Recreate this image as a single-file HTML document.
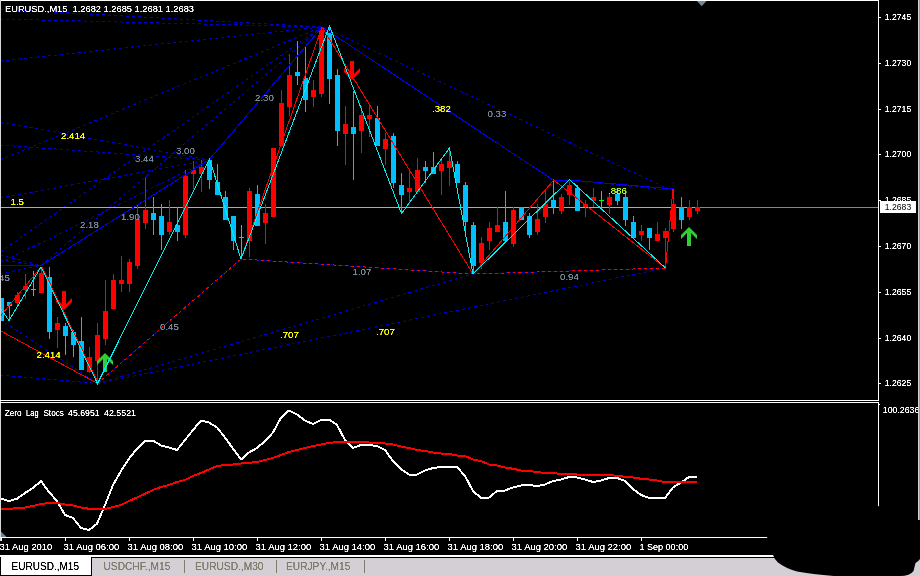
<!DOCTYPE html>
<html><head><meta charset="utf-8"><title>EURUSD M15</title>
<style>html,body{margin:0;padding:0;background:#000;width:920px;height:576px;overflow:hidden}</style></head>
<body>
<svg width="920" height="576" viewBox="0 0 920 576" style="position:absolute;left:0;top:0;display:block">
<rect x="0" y="0" width="920" height="576" fill="#000"/>
<defs><filter id="crisp" x="0" y="0" width="100%" height="100%" color-interpolation-filters="sRGB"><feComponentTransfer><feFuncA type="table" tableValues="0 0.15 0.85 1 1"/></feComponentTransfer></filter></defs>
<g stroke="#0000C8" stroke-width="1" stroke-dasharray="3 3" fill="none" shape-rendering="crispEdges">
<line x1="0" y1="9" x2="322" y2="27"/>
<line x1="0" y1="19" x2="322" y2="27"/>
<line x1="0" y1="61" x2="322" y2="27"/>
<line x1="0" y1="160" x2="322" y2="27"/>
<line x1="0" y1="252" x2="322" y2="27"/>
<line x1="41" y1="265.5" x2="322" y2="27"/>
<line x1="0" y1="122" x2="209" y2="160"/>
<line x1="0" y1="145" x2="209" y2="160"/>
<line x1="0" y1="198" x2="209" y2="160"/>
<line x1="0" y1="263" x2="209" y2="160"/>
<line x1="0" y1="255" x2="41" y2="265.5"/>
<line x1="0" y1="260" x2="41" y2="265.5"/>
<line x1="0" y1="274" x2="41" y2="265.5"/>
<line x1="0" y1="319.5" x2="97.5" y2="383.5"/>
<line x1="0" y1="375" x2="97.5" y2="383.5"/>
<line x1="97.5" y1="383.5" x2="473" y2="274"/>
<line x1="97.5" y1="383.5" x2="665.5" y2="268"/>
<line x1="329.5" y1="30" x2="673" y2="191"/>
<line x1="569.5" y1="180" x2="673" y2="190.5"/>
</g>
<g fill="none" stroke-width="1" shape-rendering="crispEdges">
<polyline points="97.5,383.5 241,259 473,274 665.5,268" stroke="#00008B"/>
<polyline points="97.5,383.5 241,259 473,274 665.5,268" stroke="#FF0000" stroke-dasharray="3 3"/>
</g>
<rect x="1" y="207" width="877" height="1" fill="#778899"/>
<rect x="1" y="207" width="699" height="1" fill="#A4AEBA"/>
<g shape-rendering="crispEdges">
<rect x="1" y="298" width="1" height="23" fill="#00BFFF"/>
<rect x="-1" y="298" width="5" height="23" fill="#00BFFF"/>
<rect x="9" y="302" width="1" height="18" fill="#00BFFF"/>
<rect x="7" y="302" width="5" height="4" fill="#00BFFF"/>
<rect x="17" y="292" width="1" height="14" fill="#FF0000"/>
<rect x="15" y="295" width="5" height="8" fill="#FF0000"/>
<rect x="25" y="274" width="1" height="25" fill="#FF0000"/>
<rect x="23" y="286" width="5" height="4" fill="#FF0000"/>
<rect x="33" y="271" width="1" height="25" fill="#00FF00"/>
<rect x="31" y="289" width="5" height="1" fill="#00FF00"/>
<rect x="41" y="267" width="1" height="26" fill="#FF0000"/>
<rect x="39" y="273" width="5" height="20" fill="#FF0000"/>
<rect x="49" y="267" width="1" height="72" fill="#00BFFF"/>
<rect x="47" y="277" width="5" height="55" fill="#00BFFF"/>
<rect x="57" y="317" width="1" height="31" fill="#FF0000"/>
<rect x="55" y="323" width="5" height="7" fill="#FF0000"/>
<rect x="65" y="323" width="1" height="32" fill="#00BFFF"/>
<rect x="63" y="326" width="5" height="10" fill="#00BFFF"/>
<rect x="73" y="330" width="1" height="27" fill="#00BFFF"/>
<rect x="71" y="332" width="5" height="13" fill="#00BFFF"/>
<rect x="81" y="317" width="1" height="53" fill="#00BFFF"/>
<rect x="79" y="341" width="5" height="29" fill="#00BFFF"/>
<rect x="89" y="347" width="1" height="26" fill="#FF0000"/>
<rect x="87" y="357" width="5" height="15" fill="#FF0000"/>
<rect x="97" y="323" width="1" height="60" fill="#FF0000"/>
<rect x="95" y="335" width="5" height="26" fill="#FF0000"/>
<rect x="105" y="280" width="1" height="65" fill="#FF0000"/>
<rect x="103" y="311" width="5" height="28" fill="#FF0000"/>
<rect x="113" y="274" width="1" height="35" fill="#FF0000"/>
<rect x="111" y="280" width="5" height="29" fill="#FF0000"/>
<rect x="121" y="256" width="1" height="36" fill="#FF0000"/>
<rect x="119" y="280" width="5" height="4" fill="#FF0000"/>
<rect x="129" y="259" width="1" height="33" fill="#FF0000"/>
<rect x="127" y="262" width="5" height="22" fill="#FF0000"/>
<rect x="137" y="205" width="1" height="64" fill="#FF0000"/>
<rect x="135" y="219" width="5" height="47" fill="#FF0000"/>
<rect x="145" y="177" width="1" height="52" fill="#FF0000"/>
<rect x="143" y="210" width="5" height="13" fill="#FF0000"/>
<rect x="153" y="197" width="1" height="38" fill="#00BFFF"/>
<rect x="151" y="213" width="5" height="7" fill="#00BFFF"/>
<rect x="161" y="204" width="1" height="46" fill="#00BFFF"/>
<rect x="159" y="216" width="5" height="19" fill="#00BFFF"/>
<rect x="169" y="200" width="1" height="35" fill="#FF0000"/>
<rect x="167" y="222" width="5" height="10" fill="#FF0000"/>
<rect x="177" y="207" width="1" height="34" fill="#00BFFF"/>
<rect x="175" y="225" width="5" height="7" fill="#00BFFF"/>
<rect x="185" y="170" width="1" height="68" fill="#FF0000"/>
<rect x="183" y="176" width="5" height="59" fill="#FF0000"/>
<rect x="193" y="161" width="1" height="28" fill="#FF0000"/>
<rect x="191" y="170" width="5" height="4" fill="#FF0000"/>
<rect x="201" y="160" width="1" height="32" fill="#FF0000"/>
<rect x="199" y="167" width="5" height="7" fill="#FF0000"/>
<rect x="209" y="159" width="1" height="30" fill="#00BFFF"/>
<rect x="207" y="160" width="5" height="20" fill="#00BFFF"/>
<rect x="217" y="164" width="1" height="31" fill="#00BFFF"/>
<rect x="215" y="182" width="5" height="13" fill="#00BFFF"/>
<rect x="225" y="191" width="1" height="29" fill="#00BFFF"/>
<rect x="223" y="197" width="5" height="23" fill="#00BFFF"/>
<rect x="233" y="216" width="1" height="34" fill="#00BFFF"/>
<rect x="231" y="216" width="5" height="25" fill="#00BFFF"/>
<rect x="241" y="225" width="1" height="34" fill="#00FF00"/>
<rect x="239" y="237" width="5" height="1" fill="#00FF00"/>
<rect x="249" y="188" width="1" height="69" fill="#FF0000"/>
<rect x="247" y="191" width="5" height="50" fill="#FF0000"/>
<rect x="257" y="185" width="1" height="41" fill="#00BFFF"/>
<rect x="255" y="194" width="5" height="32" fill="#00BFFF"/>
<rect x="265" y="204" width="1" height="40" fill="#FF0000"/>
<rect x="263" y="213" width="5" height="10" fill="#FF0000"/>
<rect x="273" y="148" width="1" height="69" fill="#FF0000"/>
<rect x="271" y="148" width="5" height="69" fill="#FF0000"/>
<rect x="281" y="90" width="1" height="56" fill="#FF0000"/>
<rect x="279" y="103" width="5" height="43" fill="#FF0000"/>
<rect x="289" y="54" width="1" height="62" fill="#FF0000"/>
<rect x="287" y="75" width="5" height="32" fill="#FF0000"/>
<rect x="297" y="41" width="1" height="44" fill="#00BFFF"/>
<rect x="295" y="72" width="5" height="4" fill="#00BFFF"/>
<rect x="305" y="47" width="1" height="65" fill="#00BFFF"/>
<rect x="303" y="78" width="5" height="22" fill="#00BFFF"/>
<rect x="313" y="80" width="1" height="27" fill="#FF0000"/>
<rect x="311" y="90" width="5" height="7" fill="#FF0000"/>
<rect x="321" y="27" width="1" height="70" fill="#FF0000"/>
<rect x="319" y="30" width="5" height="64" fill="#FF0000"/>
<rect x="329" y="26" width="1" height="78" fill="#00BFFF"/>
<rect x="327" y="33" width="5" height="46" fill="#00BFFF"/>
<rect x="337" y="69" width="1" height="77" fill="#00BFFF"/>
<rect x="335" y="75" width="5" height="56" fill="#00BFFF"/>
<rect x="345" y="106" width="1" height="59" fill="#FF0000"/>
<rect x="343" y="124" width="5" height="10" fill="#FF0000"/>
<rect x="353" y="91" width="1" height="89" fill="#00BFFF"/>
<rect x="351" y="127" width="5" height="7" fill="#00BFFF"/>
<rect x="361" y="106" width="1" height="47" fill="#FF0000"/>
<rect x="359" y="115" width="5" height="16" fill="#FF0000"/>
<rect x="369" y="104" width="1" height="33" fill="#FF0000"/>
<rect x="367" y="115" width="5" height="4" fill="#FF0000"/>
<rect x="377" y="106" width="1" height="40" fill="#00BFFF"/>
<rect x="375" y="118" width="5" height="28" fill="#00BFFF"/>
<rect x="385" y="133" width="1" height="32" fill="#FF0000"/>
<rect x="383" y="139" width="5" height="10" fill="#FF0000"/>
<rect x="393" y="133" width="1" height="55" fill="#00BFFF"/>
<rect x="391" y="136" width="5" height="47" fill="#00BFFF"/>
<rect x="401" y="173" width="1" height="40" fill="#00BFFF"/>
<rect x="399" y="185" width="5" height="10" fill="#00BFFF"/>
<rect x="409" y="169" width="1" height="35" fill="#FF0000"/>
<rect x="407" y="188" width="5" height="4" fill="#FF0000"/>
<rect x="417" y="158" width="1" height="36" fill="#FF0000"/>
<rect x="415" y="170" width="5" height="22" fill="#FF0000"/>
<rect x="425" y="161" width="1" height="22" fill="#00BFFF"/>
<rect x="423" y="167" width="5" height="4" fill="#00BFFF"/>
<rect x="433" y="152" width="1" height="22" fill="#00BFFF"/>
<rect x="431" y="167" width="5" height="7" fill="#00BFFF"/>
<rect x="441" y="158" width="1" height="37" fill="#FF0000"/>
<rect x="439" y="164" width="5" height="7" fill="#FF0000"/>
<rect x="449" y="151" width="1" height="35" fill="#FF0000"/>
<rect x="447" y="161" width="5" height="7" fill="#FF0000"/>
<rect x="457" y="161" width="1" height="22" fill="#00BFFF"/>
<rect x="455" y="164" width="5" height="19" fill="#00BFFF"/>
<rect x="465" y="182" width="1" height="50" fill="#00BFFF"/>
<rect x="463" y="185" width="5" height="37" fill="#00BFFF"/>
<rect x="473" y="222" width="1" height="52" fill="#00BFFF"/>
<rect x="471" y="225" width="5" height="41" fill="#00BFFF"/>
<rect x="481" y="237" width="1" height="32" fill="#FF0000"/>
<rect x="479" y="243" width="5" height="20" fill="#FF0000"/>
<rect x="489" y="222" width="1" height="28" fill="#FF0000"/>
<rect x="487" y="228" width="5" height="13" fill="#FF0000"/>
<rect x="497" y="207" width="1" height="25" fill="#FF0000"/>
<rect x="495" y="225" width="5" height="7" fill="#FF0000"/>
<rect x="505" y="191" width="1" height="50" fill="#00BFFF"/>
<rect x="503" y="222" width="5" height="19" fill="#00BFFF"/>
<rect x="513" y="207" width="1" height="40" fill="#FF0000"/>
<rect x="511" y="210" width="5" height="34" fill="#FF0000"/>
<rect x="521" y="207" width="1" height="13" fill="#00BFFF"/>
<rect x="519" y="207" width="5" height="13" fill="#00BFFF"/>
<rect x="529" y="213" width="1" height="25" fill="#00BFFF"/>
<rect x="527" y="216" width="5" height="19" fill="#00BFFF"/>
<rect x="537" y="204" width="1" height="31" fill="#FF0000"/>
<rect x="535" y="219" width="5" height="13" fill="#FF0000"/>
<rect x="545" y="189" width="1" height="34" fill="#FF0000"/>
<rect x="543" y="204" width="5" height="13" fill="#FF0000"/>
<rect x="553" y="180" width="1" height="34" fill="#00BFFF"/>
<rect x="551" y="200" width="5" height="7" fill="#00BFFF"/>
<rect x="561" y="194" width="1" height="20" fill="#FF0000"/>
<rect x="559" y="197" width="5" height="14" fill="#FF0000"/>
<rect x="569" y="182" width="1" height="23" fill="#FF0000"/>
<rect x="567" y="185" width="5" height="10" fill="#FF0000"/>
<rect x="577" y="185" width="1" height="26" fill="#00BFFF"/>
<rect x="575" y="188" width="5" height="23" fill="#00BFFF"/>
<rect x="585" y="200" width="1" height="17" fill="#FF0000"/>
<rect x="583" y="204" width="5" height="3" fill="#FF0000"/>
<rect x="593" y="188" width="1" height="19" fill="#FF0000"/>
<rect x="591" y="197" width="5" height="4" fill="#FF0000"/>
<rect x="601" y="191" width="1" height="17" fill="#00FF00"/>
<rect x="599" y="200" width="5" height="1" fill="#00FF00"/>
<rect x="609" y="193" width="1" height="21" fill="#FF0000"/>
<rect x="607" y="197" width="5" height="8" fill="#FF0000"/>
<rect x="617" y="189" width="1" height="16" fill="#00BFFF"/>
<rect x="615" y="194" width="5" height="7" fill="#00BFFF"/>
<rect x="625" y="194" width="1" height="32" fill="#00BFFF"/>
<rect x="623" y="197" width="5" height="23" fill="#00BFFF"/>
<rect x="633" y="216" width="1" height="22" fill="#00BFFF"/>
<rect x="631" y="222" width="5" height="16" fill="#00BFFF"/>
<rect x="641" y="225" width="1" height="16" fill="#FF0000"/>
<rect x="639" y="231" width="5" height="4" fill="#FF0000"/>
<rect x="649" y="228" width="1" height="22" fill="#00BFFF"/>
<rect x="647" y="228" width="5" height="10" fill="#00BFFF"/>
<rect x="657" y="222" width="1" height="19" fill="#FF0000"/>
<rect x="655" y="234" width="5" height="7" fill="#FF0000"/>
<rect x="665" y="228" width="1" height="40" fill="#FF0000"/>
<rect x="663" y="231" width="5" height="7" fill="#FF0000"/>
<rect x="673" y="189" width="1" height="43" fill="#FF0000"/>
<rect x="671" y="204" width="5" height="25" fill="#FF0000"/>
<rect x="681" y="197" width="1" height="32" fill="#00BFFF"/>
<rect x="679" y="207" width="5" height="13" fill="#00BFFF"/>
<rect x="689" y="200" width="1" height="20" fill="#FF0000"/>
<rect x="687" y="207" width="5" height="10" fill="#FF0000"/>
<rect x="697" y="200" width="1" height="14" fill="#FF0000"/>
<rect x="695" y="207" width="5" height="4" fill="#FF0000"/>
</g>
<polygon fill="#32CD32" points="105,353 113,361 113,365 107,359 107,372 103,372 103,359 97,365 97,361"/>
<polygon fill="#32CD32" points="689,227 697,235 697,239 691,233 691,246 687,246 687,233 681,239 681,235"/>
<polygon fill="#FF0000" points="64,310 72,302 72,298 66,304 66,291 62,291 62,304 56,298 56,302"/>
<polygon fill="#FF0000" points="352,80 360,72 360,68 354,74 354,61 350,61 350,74 344,68 344,72"/>
<polyline fill="none" stroke="#0000FF" stroke-width="1" shape-rendering="crispEdges" points="0,265.5 41,265.5 209,160 322,27 553,180 569.5,180 673,189"/>
<g fill="none" stroke="#FF0000" stroke-width="1" shape-rendering="crispEdges">
<polyline points="0,316.7 41,267"/>
<polyline points="42,267 98.5,383.5"/>
<polyline points="97.5,383.5 0,330.5"/>
<polyline points="241,259 322,27 473,274 553.75,180 665.5,268 673,189"/>
</g>
<polyline fill="none" stroke="#00F0F0" stroke-width="1" shape-rendering="crispEdges" points="0,308 9,320.5 41,267 97.5,383.5 209.5,159 241,259 329.5,26 401.5,213.5 449.5,148 473,274 569.5,179.5 665.5,268"/>
<g font-family="Liberation Sans, sans-serif" font-size="9.7px" filter="url(#crisp)">
<text x="61" y="138.5" fill="#FFFF00">2.414</text>
<text x="36.5" y="358" fill="#FFFF00">2.414</text>
<text x="10.5" y="205" fill="#FFFF00">1.5</text>
<text x="432" y="112" fill="#FFFF00">.382</text>
<text x="280" y="338" fill="#FFFF00">.707</text>
<text x="376" y="335" fill="#FFFF00">.707</text>
<text x="608" y="194" fill="#ADFF2F">.886</text>
<text x="135" y="162" fill="#778899">3.44</text>
<text x="176" y="154" fill="#778899">3.00</text>
<text x="80" y="227.5" fill="#778899">2.18</text>
<text x="121" y="220" fill="#778899">1.90</text>
<text x="255" y="100.5" fill="#778899">2.30</text>
<text x="487.5" y="117" fill="#778899">0.33</text>
<text x="160" y="330" fill="#778899">0.45</text>
<text x="352.5" y="275" fill="#778899">1.07</text>
<text x="560" y="280" fill="#778899">0.94</text>
<text x="-9" y="281" fill="#778899">0.45</text>
<text x="5" y="11.6" fill="#FFF" textLength="189" lengthAdjust="spacingAndGlyphs">EURUSD.,M15&#160;&#160;1.2682 1.2685 1.2681 1.2683</text>
<text x="4.7" y="416" fill="#FFF" textLength="17" lengthAdjust="spacingAndGlyphs">Zero</text>
<text x="26" y="416" fill="#FFF" textLength="12.6" lengthAdjust="spacingAndGlyphs">Lag</text>
<text x="43.4" y="416" fill="#FFF" textLength="20.5" lengthAdjust="spacingAndGlyphs">Stocs</text>
<text x="68.1" y="416" fill="#FFF" textLength="31.5" lengthAdjust="spacingAndGlyphs">45.6951</text>
<text x="104" y="416" fill="#FFF" textLength="32" lengthAdjust="spacingAndGlyphs">42.5521</text>
<rect x="879" y="17" width="2" height="1" fill="#FFF" shape-rendering="crispEdges"/>
<text x="884.8" y="20" fill="#FFF" textLength="26.4" lengthAdjust="spacingAndGlyphs">1.2745</text>
<rect x="879" y="63" width="2" height="1" fill="#FFF" shape-rendering="crispEdges"/>
<text x="884.8" y="66" fill="#FFF" textLength="26.4" lengthAdjust="spacingAndGlyphs">1.2730</text>
<rect x="879" y="109" width="2" height="1" fill="#FFF" shape-rendering="crispEdges"/>
<text x="884.8" y="112" fill="#FFF" textLength="26.4" lengthAdjust="spacingAndGlyphs">1.2715</text>
<rect x="879" y="154" width="2" height="1" fill="#FFF" shape-rendering="crispEdges"/>
<text x="884.8" y="157" fill="#FFF" textLength="26.4" lengthAdjust="spacingAndGlyphs">1.2700</text>
<rect x="879" y="200" width="2" height="1" fill="#FFF" shape-rendering="crispEdges"/>
<text x="884.8" y="203" fill="#FFF" textLength="26.4" lengthAdjust="spacingAndGlyphs">1.2685</text>
<rect x="879" y="246" width="2" height="1" fill="#FFF" shape-rendering="crispEdges"/>
<text x="884.8" y="249" fill="#FFF" textLength="26.4" lengthAdjust="spacingAndGlyphs">1.2670</text>
<rect x="879" y="292" width="2" height="1" fill="#FFF" shape-rendering="crispEdges"/>
<text x="884.8" y="295" fill="#FFF" textLength="26.4" lengthAdjust="spacingAndGlyphs">1.2655</text>
<rect x="879" y="338" width="2" height="1" fill="#FFF" shape-rendering="crispEdges"/>
<text x="884.8" y="341" fill="#FFF" textLength="26.4" lengthAdjust="spacingAndGlyphs">1.2640</text>
<rect x="879" y="383" width="2" height="1" fill="#FFF" shape-rendering="crispEdges"/>
<text x="884.8" y="386" fill="#FFF" textLength="26.4" lengthAdjust="spacingAndGlyphs">1.2625</text>
<text x="882.8" y="413" fill="#FFF" textLength="36.5" lengthAdjust="spacingAndGlyphs">100.2636</text>
<rect x="879" y="404" width="1" height="1" fill="#FFF"/>
<rect x="880" y="201" width="36" height="12" fill="#FFF"/>
<text x="884.8" y="210.3" fill="#000" textLength="26.4" lengthAdjust="spacingAndGlyphs">1.2683</text>
<rect x="1" y="538" width="1" height="3" fill="#FFF" shape-rendering="crispEdges"/>
<text x="-0.5" y="550" fill="#FFF" textLength="52.8" lengthAdjust="spacingAndGlyphs">31 Aug 2010</text>
<rect x="65" y="538" width="1" height="3" fill="#FFF" shape-rendering="crispEdges"/>
<text x="63.5" y="550" fill="#FFF" textLength="55.8" lengthAdjust="spacingAndGlyphs">31 Aug 06:00</text>
<rect x="129" y="538" width="1" height="3" fill="#FFF" shape-rendering="crispEdges"/>
<text x="127.5" y="550" fill="#FFF" textLength="55.8" lengthAdjust="spacingAndGlyphs">31 Aug 08:00</text>
<rect x="193" y="538" width="1" height="3" fill="#FFF" shape-rendering="crispEdges"/>
<text x="191.5" y="550" fill="#FFF" textLength="55.8" lengthAdjust="spacingAndGlyphs">31 Aug 10:00</text>
<rect x="257" y="538" width="1" height="3" fill="#FFF" shape-rendering="crispEdges"/>
<text x="255.5" y="550" fill="#FFF" textLength="55.8" lengthAdjust="spacingAndGlyphs">31 Aug 12:00</text>
<rect x="321" y="538" width="1" height="3" fill="#FFF" shape-rendering="crispEdges"/>
<text x="319.5" y="550" fill="#FFF" textLength="55.8" lengthAdjust="spacingAndGlyphs">31 Aug 14:00</text>
<rect x="385" y="538" width="1" height="3" fill="#FFF" shape-rendering="crispEdges"/>
<text x="383.5" y="550" fill="#FFF" textLength="55.8" lengthAdjust="spacingAndGlyphs">31 Aug 16:00</text>
<rect x="449" y="538" width="1" height="3" fill="#FFF" shape-rendering="crispEdges"/>
<text x="447.5" y="550" fill="#FFF" textLength="55.8" lengthAdjust="spacingAndGlyphs">31 Aug 18:00</text>
<rect x="513" y="538" width="1" height="3" fill="#FFF" shape-rendering="crispEdges"/>
<text x="511.5" y="550" fill="#FFF" textLength="55.8" lengthAdjust="spacingAndGlyphs">31 Aug 20:00</text>
<rect x="577" y="538" width="1" height="3" fill="#FFF" shape-rendering="crispEdges"/>
<text x="575.5" y="550" fill="#FFF" textLength="55.8" lengthAdjust="spacingAndGlyphs">31 Aug 22:00</text>
<rect x="641" y="538" width="1" height="3" fill="#FFF" shape-rendering="crispEdges"/>
<text x="639.5" y="550" fill="#FFF" textLength="48.7" lengthAdjust="spacingAndGlyphs">1 Sep 00:00</text>
</g>
<g fill="#FFF" shape-rendering="crispEdges">
<rect x="0" y="0" width="879" height="1"/>
<rect x="0" y="0" width="1" height="541" fill="#D8D8D8"/>
<rect x="878" y="0" width="1" height="401"/>
<rect x="878" y="402" width="1" height="136"/>
<rect x="0" y="400" width="879" height="1"/>
<rect x="0" y="402" width="879" height="1"/>
<rect x="0" y="537" width="879" height="1"/>
<rect x="918" y="0" width="1" height="555" fill="#D4D4D8"/>
<rect x="919" y="0" width="1" height="555" fill="#9C9CA0"/>
</g>
<polygon points="697,1 706.5,1 701.7,6.3" fill="#778899"/>
<polygon points="1,531.5 1,537 6.5,537" fill="#6C87A3"/>
<polyline fill="none" stroke="#FFF" stroke-width="2" stroke-linejoin="round" shape-rendering="crispEdges" points="1,498.75 9,501 17,498.75 25,493 33,488 41,481 49,492 57,501 65,515 73,518 81,528 89,530 97,523.75 105,505 113,485 121,471 129,458.5 137,448.75 145,441 153,440.5 161,445.5 169,447.5 177,450 185,440 193,430 201,420.5 209,422.5 217,427.5 225,437.5 233,448.75 241,459.5 249,452.5 257,448 265,441 273,432.5 281,417.5 289,410.5 297,414.5 305,420.5 313,424 321,420 329,419.5 337,425 345,440 353,448 361,445 369,445 377,446 385,450 393,461 401,469 409,474.5 417,474.5 425,470.5 433,468 441,467 449,466.5 457,467 465,476 473,491 481,498 489,497.5 497,491 505,490.5 513,487.5 521,485.5 529,485 537,486 545,484.5 553,481 561,479.5 569,477 577,477.5 585,479.5 593,482 601,480.5 609,478 617,478 625,481 633,489 641,495 649,498 657,498 665,498 673,487.5 681,482.5 689,477 697,477"/>
<polyline fill="none" stroke="#FF0000" stroke-width="2" stroke-linejoin="round" shape-rendering="crispEdges" points="1,509.5 9,509 17,508 25,507.5 33,506 41,504 49,503 57,503 65,504.5 73,505.5 81,507.5 89,508.75 97,509 105,509 113,507 121,505 129,501 137,497.5 145,493.75 153,490 161,487 169,485 177,482 185,480 193,476 201,473 209,469.5 217,466 225,465 233,464.5 241,463.5 249,462.75 257,462 265,460 273,458 281,455 289,452 297,450 305,448 313,446 321,444.5 329,443 337,442 345,441.75 353,441.75 361,442 369,442.5 377,443 385,443.5 393,444.5 401,446.5 409,448 417,450 425,451 433,452.5 441,453.5 449,454 457,455.5 465,456 473,459.5 481,461 489,464.5 497,465.5 505,467.5 513,468.75 521,470.5 529,471 537,472 545,473 553,473 561,474 569,474 577,474.5 585,475 593,475 601,475 609,475 617,475.75 625,476.75 633,477.5 641,478.75 649,479.5 657,480.5 665,482 673,482 681,482 689,481.5 697,482"/>
<g shape-rendering="crispEdges">
<rect x="0" y="555" width="920" height="2" fill="#FFF"/>
<rect x="0" y="557" width="920" height="1" fill="#000"/>
<rect x="0" y="558" width="920" height="18" fill="#D3CFD5"/>
<rect x="0" y="557" width="92" height="19" fill="#000"/>
<rect x="1" y="557" width="90" height="18" fill="#FFF"/>
<rect x="184" y="560" width="1" height="13" fill="#807C6C"/>
<rect x="276" y="560" width="1" height="13" fill="#807C6C"/>
<rect x="364" y="560" width="1" height="13" fill="#807C6C"/>
</g>
<g font-family="Liberation Sans, sans-serif" font-size="10.2px" filter="url(#crisp)">
<text x="11.5" y="570" fill="#000" textLength="67.5" lengthAdjust="spacingAndGlyphs">EURUSD.,M15</text>
<text x="103.5" y="570" fill="#807C6C">USDCHF.,M15</text>
<text x="195" y="570" fill="#807C6C">EURUSD.,M30</text>
<text x="286" y="570" fill="#807C6C">EURJPY.,M15</text>
</g>
<path d="M767,537 L767,520 Q775,506 800,506 L878,506 L917,520 L920,520 L920,559 Q918.5,561.5 915.5,563 L913.5,571 Q910,576 900,576 L834,576 Q812,574 797,571.5 Q785,568 778,562.5 Q774,558.5 773,555 Z" fill="#000"/>
</svg>
</body></html>
